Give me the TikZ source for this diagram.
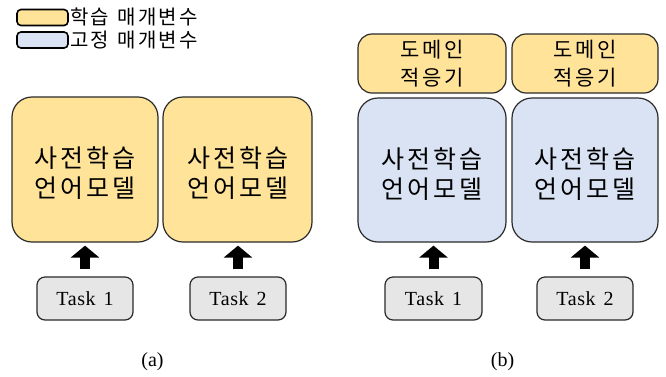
\documentclass[tikz,border=0pt]{standalone}
\usepackage{fontspec}
\setmainfont{Liberation Serif}
\newfontfamily\kr{Noto Sans CJK KR}[LetterSpace=12]
\newfontfamily\taskfont{Liberation Serif}[LetterSpace=3]
\usetikzlibrary{arrows.meta}
\definecolor{trainfill}{HTML}{FFE399}
\definecolor{frozenfill}{HTML}{DAE3F3}
\definecolor{taskfill}{HTML}{E6E6E6}
\definecolor{edge}{HTML}{2A2A2A}
\tikzset{
  plm/.style={draw=edge, line width=1.2pt, rounded corners=20pt, inner sep=0pt},
  plmtext/.style={align=center, inner sep=0pt, font=\kr\fontsize{25}{30}\selectfont},
  adapter/.style={draw=edge, line width=1.2pt, rounded corners=14pt, align=center,
    fill=trainfill, font=\kr\fontsize{21}{27.5}\selectfont, inner sep=0pt,
    minimum height=59pt},
  taskbox/.style={draw=edge, line width=1.2pt, rounded corners=8pt, fill=taskfill,
    minimum width=96pt, minimum height=43pt, inner sep=0pt,
    font=\taskfont\fontsize{20}{22}\selectfont},
  legendbox/.style={draw=black, line width=1.6pt, rounded corners=4pt,
    minimum width=51pt, minimum height=16pt, inner sep=0pt},
  legendtext/.style={anchor=west, inner sep=0pt, font=\kr\fontsize{20}{22}\selectfont},
  feed/.style={-{Triangle[width=28pt,length=12pt]}, line width=10pt,
    shorten <=7pt, shorten >=3pt},
  caption/.style={font=\fontsize{20}{22}\selectfont}
}
\begin{document}
\begin{tikzpicture}[x=1pt,y=-1pt]
\useasboundingbox[fill=white] (0,0) rectangle (666,376);

% legend
\node[legendbox, fill=trainfill] (lgA) at (42.5,17.5) {};
\node[legendtext] (lgAt) at (70,17) {학습\hspace{0.4em}매개변수};
\node[legendbox, fill=frozenfill] (lgB) at (42.5,40) {};
\node[legendtext] (lgBt) at (70,40) {고정\hspace{0.4em}매개변수};

% (a) full fine-tuning
\node[plm, fill=trainfill, minimum width=146pt, minimum height=145pt] (a1) at (85,169.5) {};
\node[plmtext] (a1t) at ([yshift=-4pt]a1.center) {사전학습\\언어모델};
\node[plm, fill=trainfill, minimum width=149pt, minimum height=145pt] (a2) at (237.5,169.5) {};
\node[plmtext] (a2t) at ([yshift=-4pt]a2.center) {사전학습\\언어모델};
\node[taskbox] (ta1) at (85,298.5) {Task\hspace{0.4em}1};
\node[taskbox] (ta2) at (238,298.5) {Task\hspace{0.4em}2};
\draw[feed] (ta1) -- (ta1 |- a1.south);
\draw[feed] (ta2) -- (ta2 |- a2.south);
\node[caption] (capa) at (152.5,361.5) {(a)};

% (b) domain adapters on a frozen model
\node[adapter, minimum width=148pt] (d1) at (432,63.5) {도메인\\적응기};
\node[adapter, minimum width=146pt] (d2) at (585,63.5) {도메인\\적응기};
\node[plm, fill=frozenfill, minimum width=148pt, minimum height=144pt] (b1) at (432,170) {};
\node[plmtext] (b1t) at ([yshift=-4pt]b1.center) {사전학습\\언어모델};
\node[plm, fill=frozenfill, minimum width=146pt, minimum height=144pt] (b2) at (585,170) {};
\node[plmtext] (b2t) at ([yshift=-4pt]b2.center) {사전학습\\언어모델};
\node[taskbox, minimum width=97pt] (tb1) at (433.5,298.5) {Task\hspace{0.4em}1};
\node[taskbox] (tb2) at (585,298.5) {Task\hspace{0.4em}2};
\draw[feed] (tb1) -- (tb1 |- b1.south);
\draw[feed] (tb2) -- (tb2 |- b2.south);
\node[caption] (capb) at (502.5,361.5) {(b)};
\end{tikzpicture}
\end{document}
